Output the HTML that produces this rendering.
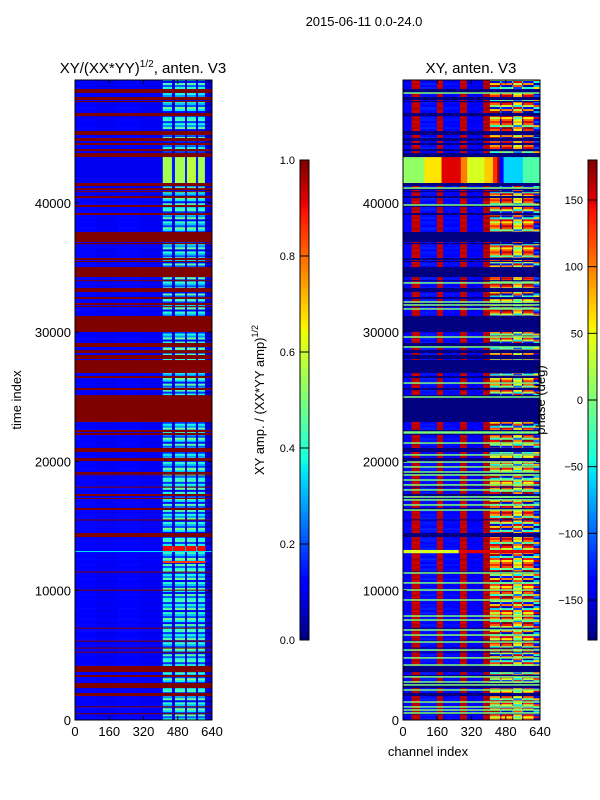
<!DOCTYPE html>
<html><head><meta charset="utf-8"><style>
html,body{margin:0;padding:0;background:#fff;}
svg{display:block;font-family:"Liberation Sans",sans-serif;}
</style></head><body>
<svg id="fig" width="600" height="800" viewBox="0 0 600 800" xmlns="http://www.w3.org/2000/svg">
<rect width="600" height="800" fill="#fff"/>
<text x="364" y="26" font-size="13" text-anchor="middle">2015-06-11 0.0-24.0</text>
<text x="143" y="73" font-size="15" text-anchor="middle">XY/(XX*YY)<tspan dy="-6" font-size="10">1/2</tspan><tspan dy="6">, anten. V3</tspan></text>
<text x="471" y="73" font-size="15" text-anchor="middle">XY, anten. V3</text>
<text transform="translate(21,400) rotate(-90)" font-size="13" text-anchor="middle">time index</text>
<text x="428" y="756" font-size="13" text-anchor="middle">channel index</text>
<text transform="translate(264,400) rotate(-90)" font-size="13" text-anchor="middle">XY amp. / (XX*YY amp)<tspan dy="-6" font-size="9">1/2</tspan></text>
<g id="left"></g>
<g id="right"></g>
<g id="axes"></g>
<g id="cbars"></g>
<text transform="translate(545,400) rotate(-90)" font-size="13" text-anchor="middle">phase (deg)</text>
</svg>
<script>
const tMax = 49500;
const chanTicks = [0,160,320,480,640];
const timeTicks = [0,10000,20000,30000,40000];
const ampTicks = [0.0,0.2,0.4,0.6,0.8,1.0];
const phaseTicks = [-150,-100,-50,0,50,100,150];
const flagBands = [[48500,48800],[47950,48180],[47800,47870],[46700,46950],[45250,45550],[44780,45010],[44470,44630],[44000,44160],[43540,43850],[41300,41530],[40990,41140],[40830,40900],[40370,40530],[39680,39830],[39060,39210],[36970,37740],[36800,36900],[35570,35730],[35420,35500],[34260,35030],[33950,34020],[33100,33410],[32560,32710],[32100,32250],[31940,32010],[30010,31250],[28850,29160],[28380,28610],[27920,28230],[26840,27840],[26450,26600],[25520,25680],[24900,25130],[23050,24900],[22270,22430],[22040,22200],[20730,21040],[20030,20260],[19030,19180],[18950,19000],[18000,18050],[17320,17480],[17090,17170],[16240,16400],[15460,15510],[14150,14460],[11420,11480],[10030,10080],[7090,7140],[6080,6140],[5540,5600],[5230,5290],[3710,4180],[3330,3480],[2470,2860],[1850,2090],[1000,1060],[460,520]];
const ampSegments = [[0,100,0.12],[100,200,0.1],[200,300,0.12],[300,410,0.1],[410,453,0.38],[453,467,0.1],[467,514,0.4],[514,523,0.1],[523,565,0.4],[565,575,0.1],[575,607,0.38],[607,640,0.08]];
const phaseSegments = [[0,40,-140],[40,80,160],[80,158,-130],[158,187,160],[187,266,-135],[266,299,160],[299,374,-140],[374,406,165],[406,453,90],[453,460,-170],[460,509,120],[509,515,-170],[515,556,40],[556,562,-170],[562,610,110],[610,640,-150]];
const gainPattern = [1.0,0.55,1.15,0.35,0.9,1.25,0.5,0.8,1.05,0.3,1.2,0.7,0.95,0.45,1.1];
const phaseShift = [0,-60,30,-150,80,-20,110,-90,20,60,-130,0,40];
const specialAmpBands = [
 [41530,43540,[[0,410,0.1],[410,453,0.55],[453,467,0.15],[467,514,0.55],[514,523,0.15],[523,565,0.58],[565,575,0.15],[575,607,0.55],[607,640,0.1]]],
 [12990,13460,[[0,410,0.12],[410,453,0.9],[453,456,0.3],[456,514,0.9],[514,518,0.3],[518,565,0.9],[565,570,0.3],[570,610,0.9],[610,640,0.12]]],
 [12990,13070,[[0,640,0.35]]],
 [12140,12300,[[0,410,0.12],[410,610,0.85],[610,640,0.12]]]];
const specialPhaseBands = [
 [41530,43540,[[0,100,10],[100,180,60],[180,270,150],[270,300,100],[300,380,40],[380,420,70],[420,440,130],[440,450,170],[450,470,-140],[470,560,-60],[560,640,-20]]],
 [12900,13150,[[0,260,40],[260,640,150]]]];
const greenLines = [48490,41140,39830,33800,32330,32100,31790,29620,28850,26060,24980,22270,22200,21420,20500,19950,19570,19180,18950,18560,18180,17790,17250,17020,16630,16240,11370,10600,10050,9280,8040,7730,6960,6570,6030,5410,4800,4250,3330,2940,2710,2320,1390,1010,770,540];

const NS='http://www.w3.org/2000/svg';
const Y0=720, YT=80;
function yS(t){return Y0-(t/tMax)*(Y0-YT);}
function xL(c){return 75+c*137/640;}
function xR(c){return 403+c*137/640;}
function jet(v){v=Math.max(0,Math.min(1,v));
 function ip(pts){for(let i=1;i<pts.length;i++){if(v<=pts[i][0]){const a=pts[i-1],b=pts[i];return a[1]+(b[1]-a[1])*(v-a[0])/(b[0]-a[0]);}}return pts[pts.length-1][1];}
 const r=ip([[0,0],[0.35,0],[0.66,1],[0.89,1],[1,0.5]]);
 const g=ip([[0,0],[0.125,0],[0.375,1],[0.64,1],[0.91,0],[1,0]]);
 const b=ip([[0,0.5],[0.11,1],[0.34,1],[0.65,0],[1,0]]);
 return 'rgb('+Math.round(r*255)+','+Math.round(g*255)+','+Math.round(b*255)+')';}
function pv(p){return (p+180)/360;}
function wrap(p){while(p>180)p-=360;while(p<-180)p+=360;return p;}
function rect(g,x,y,w,h,fill,name){const r=document.createElementNS(NS,'rect');
 r.setAttribute('x',x);r.setAttribute('y',y);r.setAttribute('width',w);r.setAttribute('height',h);r.setAttribute('fill',fill);
 
 
 g.appendChild(r);return r;}
const L=document.getElementById('left'), R=document.getElementById('right');
const step=155;
let ri=0;
for(let t=0;t<tMax;t+=step,ri++){
 const y=yS(Math.min(t+step,tMax)), h=yS(t)-y+0.3;
 const g=gainPattern[ri%gainPattern.length], s=phaseShift[ri%phaseShift.length];
 ampSegments.forEach(sg=>{
  const v=sg[1]<=410? sg[2]*(0.85+0.2*g) : sg[2]*g;
  rect(L,xL(sg[0]),y,xL(sg[1])-xL(sg[0])+0.3,h,jet(v),'amp-cell');
 });
 phaseSegments.forEach(sg=>{
  const p=sg[0]>=406? wrap(sg[2]+s) : sg[2]+(g-0.8)*15;
  rect(R,xR(sg[0]),y,xR(sg[1])-xR(sg[0])+0.3,h,jet(pv(Math.max(-180,Math.min(180,p)))),'phase-cell');
 });
}
specialAmpBands.forEach(b=>{b[2].forEach(sg=>{rect(L,xL(sg[0]),yS(b[1]),xL(sg[1])-xL(sg[0])+0.3,yS(b[0])-yS(b[1]),jet(sg[2]),'amp-special-cell');});});
specialPhaseBands.forEach(b=>{b[2].forEach(sg=>{rect(R,xR(sg[0]),yS(b[1]),xR(sg[1])-xR(sg[0])+0.3,yS(b[0])-yS(b[1]),jet(pv(sg[2])),'phase-special-cell');});});
flagBands.forEach(b=>{
 const y=yS(b[1]), h=Math.max(1,yS(b[0])-y);
 rect(L,75,y,137,h,jet(1),'amp-flag-band');
 rect(R,403,y,137,h,jet(0),'phase-flag-band');
});
greenLines.forEach(t=>{rect(R,403,yS(t+60),137,1.5,jet(0.5),'phase-green-line');});

const A=document.getElementById('axes');
function line(g,x1,y1,x2,y2,name,w){const l=document.createElementNS(NS,'line');
 l.setAttribute('x1',x1);l.setAttribute('y1',y1);l.setAttribute('x2',x2);l.setAttribute('y2',y2);
 l.setAttribute('stroke','#000');l.setAttribute('stroke-width',w||1);
 
 
 g.appendChild(l);}
function text(g,x,y,s,anchor,size,name){const e=document.createElementNS(NS,'text');
 e.setAttribute('x',x);e.setAttribute('y',y);e.setAttribute('text-anchor',anchor);e.setAttribute('font-size',size);e.textContent=s;
 
 
 g.appendChild(e);}
[[75,xL],[403,xR]].forEach(([x0,xf])=>{
 const fr=document.createElementNS(NS,'rect');
 fr.setAttribute('x',x0);fr.setAttribute('y',YT);fr.setAttribute('width',137);fr.setAttribute('height',Y0-YT);
 fr.setAttribute('fill','none');fr.setAttribute('stroke','#000');fr.setAttribute('stroke-width',1);
 
 
 A.appendChild(fr);
 chanTicks.forEach(c=>{const x=xf(c);line(A,x,Y0,x,Y0-4,'x-tick');line(A,x,YT,x,YT+4,'x-tick-top');text(A,x,736,String(c),'middle',13,'x-tick-label');});
 timeTicks.forEach(t=>{const y=yS(t);line(A,x0,y,x0+4,y,'y-tick');line(A,x0+137,y,x0+133,y,'y-tick-right');text(A,x0-4,y+5,String(t),'end',13,'y-tick-label');});
});
const C=document.getElementById('cbars');
for(let i=0;i<120;i++){const v0=i/120, v1=(i+1)/120;
 const y=640-v1*480, h=480/120+0.3;
 rect(C,300,y,9,h,jet((v0+v1)/2),'amp-colorbar-cell');
 rect(C,588,y,9,h,jet((v0+v1)/2),'phase-colorbar-cell');}
[[300],[588]].forEach(([x])=>{const fr=document.createElementNS(NS,'rect');
 fr.setAttribute('x',x);fr.setAttribute('y',160);fr.setAttribute('width',9);fr.setAttribute('height',480);
 fr.setAttribute('fill','none');fr.setAttribute('stroke','#000');fr.setAttribute('stroke-width',1);
 
 
 C.appendChild(fr);});
ampTicks.forEach(v=>{const y=640-v*480;line(C,300,y,309,y,'amp-colorbar-tick');text(C,295,y+4,v.toFixed(1),'end',11,'amp-colorbar-tick-label');});
phaseTicks.forEach(p=>{const y=640-pv(p)*480;line(C,588,y,597,y,'phase-colorbar-tick');text(C,583,y+4,p<0?'\u2212'+(-p):String(p),'end',11,'phase-colorbar-tick-label');});
</script>
</body></html>
